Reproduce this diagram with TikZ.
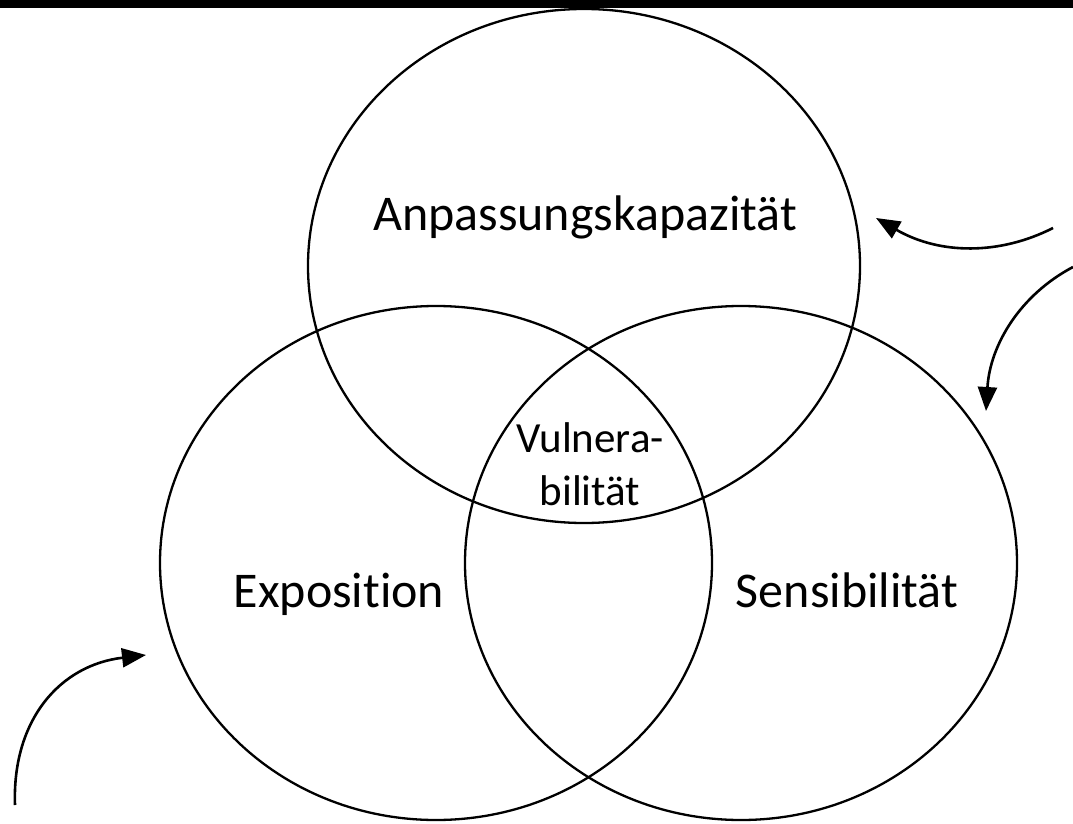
\documentclass[tikz,border=0pt]{standalone}
\usepackage{fontspec}
\setmainfont[Ligatures=NoCommon]{Carlito}
\usetikzlibrary{arrows.meta,shapes.geometric}

\begin{document}
\begin{tikzpicture}[x=1pt, y=-1pt,
  ring/.style={draw=black, line width=2.3pt, ellipse, minimum width=552pt, minimum height=514pt, inner sep=0pt},
  label/.style={font=\fontsize{50}{58}\selectfont, anchor=base, inner sep=0pt},
  core/.style={font=\fontsize{43}{53}\selectfont, align=center, inner sep=0pt},
  arrow/.style={-{Triangle[length=24pt, width=19pt]}, line width=2.6pt, draw=black}]
  \useasboundingbox (0,0) rectangle (1073,824);
  \fill[black] (0,0) rectangle (1073,8);
  % the three rings
  \node[ring] (adapt) at (584,266) {};
  \node[ring] (expo) at (436,563) {};
  \node[ring] (sens) at (741,563) {};
  % texts
  \node[label] (adapttext) at (585,230) {Anpassungskapazität};
  \node[label] (expotext) at (339,607) {Exposition};
  \node[label] (senstext) at (847,607) {Sensibilität};
  \node[core] (vuln) at (590,464) {Vulnera-\\bilität};
  % arrows from outside
  \coordinate (fromright) at (1053,228);
  \coordinate (toadapt) at (876,218);
  \coordinate (fromcorner) at (1073,267);
  \coordinate (tosens) at (986,411);
  \coordinate (fromleft) at (15,805);
  \coordinate (toexpo) at (146,655);
  \draw[arrow] (fromright) .. controls (1000,255) and (940,255) .. (toadapt);
  \draw[arrow] (fromcorner) .. controls (1020,295) and (990,345) .. (tosens);
  \draw[arrow] (fromleft) .. controls (12,720) and (60,665) .. (toexpo);
\end{tikzpicture}
\end{document}
